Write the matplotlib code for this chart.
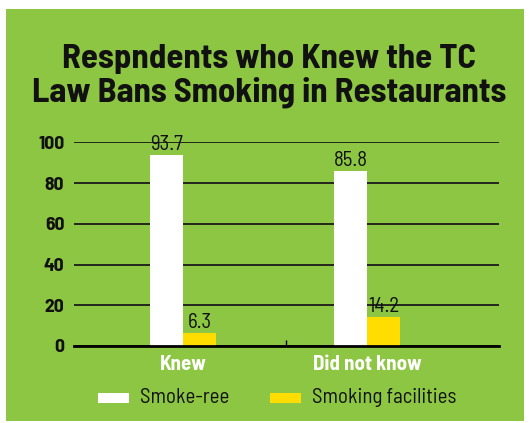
import matplotlib
matplotlib.use("Agg")
import matplotlib.pyplot as plt
from matplotlib.patches import Rectangle
from matplotlib import font_manager

categories = ["Knew", "Did not know"]
smoke_free = [93.7, 85.8]
smoking_facilities = [6.3, 14.2]
series_names = ["Smoke-ree", "Smoking facilities"]
yticks = [0, 20, 40, 60, 80, 100]
title = "Respndents who Knew the TC\nLaw Bans Smoking in Restaurants"

GREEN = "#8dc642"
YELLOW = "#ffdd00"
INK = "#111111"

names = {f.name for f in font_manager.fontManager.ttflist}
main_font = next((n for n in ["Barlow Semi Condensed", "Barlow Condensed", "Asap Condensed"]
                  if n in names), "DejaVu Sans")
plt.rcParams["font.family"] = [main_font, "DejaVu Sans"]

W, H = 531, 423
fig = plt.figure(figsize=(W / 100, H / 100), dpi=100)
fig.patch.set_facecolor("white")

# green panel
fig.add_artist(Rectangle((6 / W, 1 - 421 / H), (524 - 6) / W, (421 - 9) / H,
                         transform=fig.transFigure, facecolor=GREEN,
                         edgecolor="none", zorder=0))

ax = fig.add_axes([74 / W, 1 - 346 / H, (499 - 74) / W, (346 - 142.3) / H])
ax.set_facecolor("none")
ax.set_zorder(1)

bw = 0.18
x = list(range(len(categories)))
xs_white = [i - bw / 2 for i in x]
xs_yellow = [i + bw / 2 for i in x]
ax.bar(xs_white, smoke_free, width=bw, color="white", zorder=3, label=series_names[0])
ax.bar(xs_yellow, smoking_facilities, width=bw, color=YELLOW, zorder=3, label=series_names[1])

for xs, vals in ((xs_white, smoke_free), (xs_yellow, smoking_facilities)):
    for xi, v in zip(xs, vals):
        ax.annotate(f"{v}", (xi, v), xytext=(0, 5), textcoords="offset pixels",
                    ha="center", va="baseline", fontsize=15, color=INK, zorder=4)

ax.set_xlim(-0.592, 1.717)
ax.set_ylim(0, 100)
ax.set_yticks(yticks)
ax.set_yticklabels([str(t) for t in yticks], fontsize=14, fontweight="bold", color=INK)
ax.yaxis.grid(True, color="#1a1a1a", linewidth=1.3, zorder=1)
ax.set_axisbelow(True)
ax.tick_params(axis="y", length=0, pad=7)

ax.set_xticks([0.56])
ax.set_xticklabels([""])
ax.tick_params(axis="x", length=4, width=1, color="black", direction="in")
for s in ["top", "right", "left"]:
    ax.spines[s].set_visible(False)
ax.spines["bottom"].set_linewidth(2)
ax.spines["bottom"].set_color("black")
ax.spines["bottom"].set_zorder(5)

for xi, c in zip(x, categories):
    ax.annotate(c, (xi, 0), xytext=(0, -9), textcoords="offset pixels",
                ha="center", va="top", fontsize=15, fontweight="bold", color="white")

fig.text(269 / W, 1 - 102 / H, title, ha="center", va="baseline", fontsize=25,
         fontweight="bold", color=INK, linespacing=1.1, multialignment="center")

# legend
leg_y = 1 - 403 / H
fig.add_artist(Rectangle((98 / W, 1 - 403 / H), 31 / W, 10 / H, transform=fig.transFigure,
                         facecolor="white", edgecolor="none"))
fig.text(140 / W, leg_y, series_names[0], ha="left", va="baseline", fontsize=15, color=INK)
fig.add_artist(Rectangle((270 / W, 1 - 403 / H), 31 / W, 10 / H, transform=fig.transFigure,
                         facecolor=YELLOW, edgecolor="none"))
fig.text(312 / W, leg_y, series_names[1], ha="left", va="baseline", fontsize=15, color=INK)

fig.savefig("out.png", dpi=100, facecolor=fig.get_facecolor())
